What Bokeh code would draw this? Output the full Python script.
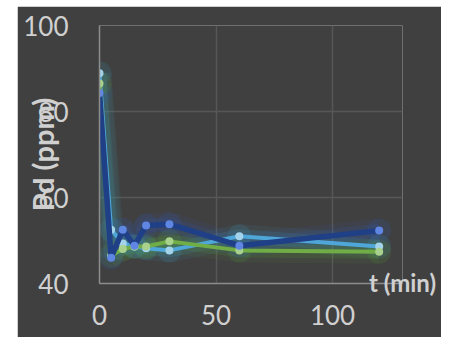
from bokeh.plotting import figure
from bokeh.models import FixedTicker, Range1d
from bokeh.embed import file_html
from bokeh.resources import INLINE

# ---- data ----
t_min = [0, 5, 10, 15, 20, 30, 60, 120]
series_dark = [84.3, 46.0, 52.5, 48.8, 53.5, 53.8, 48.8, 52.3]
series_light = [88.9, 52.5, 49.3, 48.6, 48.2, 47.7, 51.0, 48.6]
series_green = [86.5, 46.5, 48.0, 48.6, 48.6, 49.8, 47.7, 47.4]
x_ticks = [0, 50, 100]
y_ticks = [40, 60, 80, 100]
x_title = "t (min)"
y_title = "Pd (ppm)"

BG = "#404040"
TXT = "#d0d0d0"
FONT = "Lato"

p = figure(width=424, height=331, x_range=Range1d(0, 130), y_range=Range1d(40, 100),
           output_backend="svg", toolbar_location=None,
           min_border_left=82, min_border_right=39, min_border_top=19, min_border_bottom=54)
p.margin = (6, 0, 0, 17)
p.background_fill_color = BG
p.border_fill_color = BG
p.outline_line_color = None

for ax in (p.xaxis[0], p.yaxis[0]):
    ax.major_tick_out = 0
    ax.major_tick_in = 0
    ax.minor_tick_out = 0
    ax.minor_tick_in = 0
    ax.axis_line_color = "#8c8c8c"
    ax.axis_line_width = 1.5
    ax.major_label_text_font = FONT
    ax.major_label_text_font_size = "26px"
    ax.major_label_text_color = TXT
    ax.axis_label_text_font = FONT
    ax.axis_label_text_font_style = "bold"
    ax.axis_label_text_color = TXT
p.xaxis.ticker = FixedTicker(ticks=x_ticks)
p.yaxis.ticker = FixedTicker(ticks=y_ticks)
p.yaxis.major_label_standoff = 31
p.xaxis.major_label_standoff = 21

p.yaxis.axis_label = y_title
p.yaxis.axis_label_text_font_size = "29px"
p.yaxis.axis_label_standoff = -40
p.xaxis.axis_label = x_title
p.xaxis.axis_label_text_font_size = "24px"
p.xaxis.axis_label_standoff = -60
p.xaxis.axis_label_align = "end"
p.xaxis.axis_label_text_align = "center"

p.xgrid.ticker = FixedTicker(ticks=x_ticks)
p.ygrid.ticker = FixedTicker(ticks=y_ticks)
for g in (p.xgrid[0], p.ygrid[0]):
    g.grid_line_color = "#575757"
    g.grid_line_width = 1.5

styles = [
    (series_light, "#4fa6d8", "#a3d3ea", "#3aa0c8", 4),
    (series_green, "#70ad47", "#a9d18e", "#5ea832", 4),
    (series_dark, "#1f3f86", "#5f86e2", "#2e5cc8", 5.5),
]

# glow layer
for ys, lc, mc, gc, lw in styles:
    p.line(t_min, ys, line_color=gc, line_width=24, line_alpha=0.08)
    p.line(t_min, ys, line_color=gc, line_width=14, line_alpha=0.14)
    p.scatter(t_min, ys, size=24, fill_color=gc, fill_alpha=0.14, line_color=None)

for ys, lc, mc, gc, lw in styles:
    p.line(t_min, ys, line_color=lc, line_width=lw)
    p.scatter(t_min, ys, size=8, fill_color=mc, line_color=None)

open("out.html", "w").write(file_html(p, INLINE))
